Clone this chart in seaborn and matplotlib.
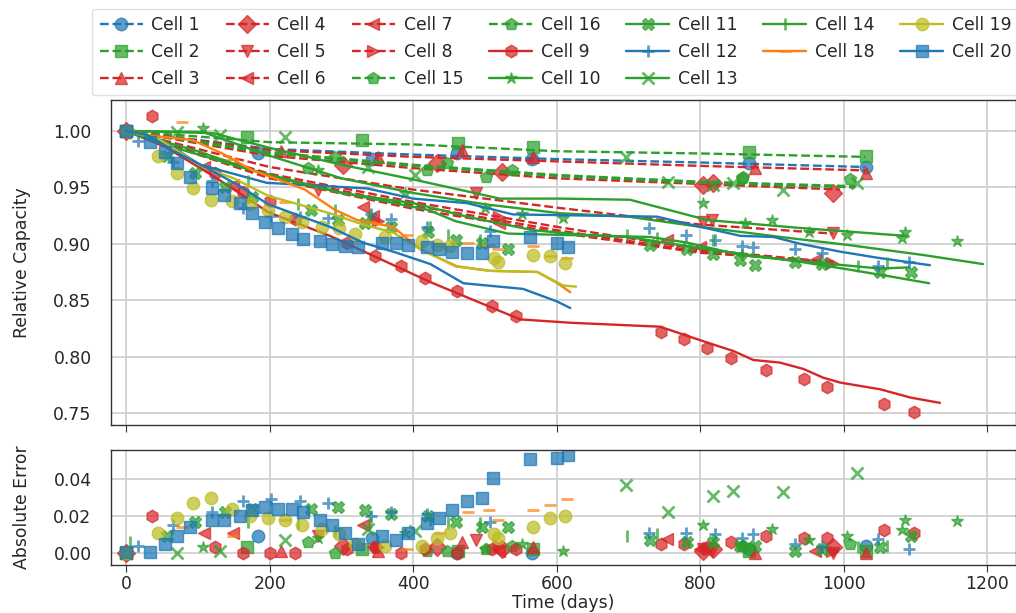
import matplotlib
matplotlib.use("Agg")
import matplotlib.pyplot as plt
from matplotlib.lines import Line2D
from matplotlib.colors import to_rgba
import seaborn as sns

# ---- data (days, relative capacity, abs error) ----
cell1_line_t = [0, 200, 400, 600, 800, 1030]
cell1_line_q = [1.0, 0.984, 0.979, 0.975, 0.972, 0.968]
cell1_t = [0, 184, 343, 461, 566, 868, 1031]
cell1_q = [1.0, 0.9805, 0.975, 0.980, 0.975, 0.9715, 0.968]
cell1_err = [0.0, 0.009, 0.008, 0.0, 0.0, 0.002, 0.004]

cell2_line_t = [0, 200, 400, 600, 800, 1030]
cell2_line_q = [1.0, 0.990, 0.988, 0.982, 0.980, 0.977]
cell2_t = [0, 168, 329, 463, 567, 868, 1031]
cell2_q = [1.0, 0.995, 0.992, 0.989, 0.986, 0.981, 0.978]
cell2_err = [0.0, 0.003, 0.002, 0.001, 0.002, 0.001, 0.001]

cell3_line_t = [0, 200, 400, 600, 800, 1030]
cell3_line_q = [1.0, 0.983, 0.977, 0.973, 0.969, 0.965]
cell3_t = [0, 216, 351, 468, 567, 877, 1031]
cell3_q = [1.0, 0.982, 0.977, 0.983, 0.977, 0.967, 0.963]
cell3_err = [0.0, 0.001, 0.001, 0.006, 0.003, 0.0, 0.0]

cell4_line_t = [0, 200, 400, 600, 800, 995]
cell4_line_q = [1.0, 0.978, 0.967, 0.958, 0.953, 0.948]
cell4_t = [0, 302, 433, 524, 804, 818, 985]
cell4_q = [1.0, 0.970, 0.972, 0.964, 0.952, 0.954, 0.945]
cell4_err = [0.0, 0.004, 0.003, 0.002, 0.001, 0.002, 0.003]

cell5_line_t = [0, 200, 400, 600, 800, 985]
cell5_line_q = [1.0, 0.968, 0.948, 0.932, 0.917, 0.909]
cell5_t = [0, 268, 488, 804, 816, 985]
cell5_q = [1.0, 0.948, 0.945, 0.919, 0.921, 0.9097]
cell5_err = [0.0, 0.009, 0.007, 0.002, 0.001, 0.0]

cell6_line_t = [0, 200, 400, 600, 800, 960]
cell6_line_q = [1.0, 0.962, 0.937, 0.915, 0.895, 0.885]
cell6_t = [0, 149, 330, 753, 960]
cell6_q = [1.0, 0.952, 0.933, 0.9035, 0.886]
cell6_err = [0.0, 0.011, 0.015, 0.0075, 0.001]

cell7_line_t = [0, 200, 400, 600, 800, 980]
cell7_line_q = [1.0, 0.960, 0.934, 0.912, 0.893, 0.883]
cell7_t = [0, 108, 344, 520, 800]
cell7_q = [1.0, 0.968, 0.925, 0.918, 0.897]
cell7_err = [0.0, 0.011, 0.003, 0.001, 0.002]

cell8_line_t = [0, 200, 400, 600, 800, 988]
cell8_line_q = [1.0, 0.958, 0.931, 0.910, 0.892, 0.884]
cell8_t = [0, 351, 519, 984]
cell8_q = [1.0, 0.920, 0.924, 0.883]
cell8_err = [0.0, 0.003, 0.004, 0.001]

cell15_line_t = [0, 200, 400, 600, 800, 1016]
cell15_line_q = [1.0, 0.980, 0.969, 0.960, 0.954, 0.950]
cell15_t = [0, 254, 419, 502, 858, 1009]
cell15_q = [1.0, 0.967, 0.9655, 0.959, 0.958, 0.957]
cell15_err = [0.0, 0.006, 0.001, 0.002, 0.004, 0.005]

cell16_line_t = [0, 200, 400, 600, 800, 1016]
cell16_line_q = [1.0, 0.981, 0.970, 0.961, 0.955, 0.951]
cell16_t = [0, 291, 447, 538, 860]
cell16_q = [1.0, 0.977, 0.9717, 0.9655, 0.959]
cell16_err = [0.0, 0.0, 0.001, 0.004, 0.004]

cell9_line_t = [0, 54, 124, 198, 284, 424, 549, 619, 744, 810, 846, 874, 911,
                944, 971, 995, 1051, 1093, 1134]
cell9_line_q = [1.0, 0.986, 0.959, 0.928, 0.907, 0.866, 0.833, 0.830, 0.8265,
                0.8124, 0.805, 0.797, 0.7947, 0.789, 0.7814, 0.777, 0.771,
                0.7637, 0.759]
cell9_t = [0, 36, 124, 163, 201, 236, 308, 347, 383, 417, 461, 510, 543, 746,
           778, 810, 843, 892, 945, 977, 1056, 1098]
cell9_q = [1.0, 1.013, 0.963, 0.946, 0.938, 0.922, 0.901, 0.889, 0.880, 0.870,
           0.858, 0.845, 0.836, 0.822, 0.816, 0.808, 0.799, 0.788, 0.7805,
           0.7735, 0.7584, 0.751]
cell9_err = [0.0, 0.020, 0.003, 0.0, 0.0, 0.0, 0.002, 0.003, 0.0, 0.002, 0.0,
             0.002, 0.002, 0.005, 0.005, 0.003, 0.006, 0.009, 0.008, 0.008,
             0.0125, 0.011]

cell10_line_t = [0, 107, 200, 300, 400, 500, 605, 700, 800, 925, 1005, 1111, 1194]
cell10_line_q = [1.0, 0.999, 0.978, 0.958, 0.945, 0.935, 0.927, 0.924, 0.915,
                 0.905, 0.899, 0.890, 0.882]
cell10_t = [0, 107, 268, 389, 500, 552, 609, 804, 862, 900, 951, 1005, 1081,
            1086, 1158]
cell10_q = [1.0, 1.003, 0.9655, 0.945, 0.932, 0.926, 0.923, 0.936, 0.9186,
            0.921, 0.910, 0.908, 0.905, 0.910, 0.9027]
cell10_err = [0.0, 0.003, 0.008, 0.011, 0.002, 0.005, 0.001, 0.015, 0.004,
              0.013, 0.007, 0.009, 0.0125, 0.018, 0.0175]

cell11_line_t = [0, 57, 96, 138, 176, 295, 421, 459, 532, 730, 782, 856, 932,
                 1051, 1088]
cell11_line_q = [1.0, 0.987, 0.980, 0.972, 0.965, 0.946, 0.930, 0.920, 0.909,
                 0.906, 0.901, 0.890, 0.885, 0.878, 0.879]
cell11_t = [0, 57, 96, 138, 176, 258, 295, 333, 369, 421, 459, 496, 532, 730,
            782, 818, 856, 877, 932, 970, 1051, 1094]
cell11_q = [1.0, 0.978, 0.963, 0.9505, 0.941, 0.930, 0.921, 0.918, 0.915,
            0.910, 0.903, 0.901, 0.895, 0.899, 0.895, 0.891, 0.886, 0.881,
            0.884, 0.882, 0.875, 0.875]
cell11_err = [0.0, 0.009, 0.017, 0.022, 0.024, 0.024, 0.025, 0.023, 0.021,
              0.020, 0.017, 0.014, 0.014, 0.007, 0.006, 0.006, 0.004, 0.004,
              0.001, 0.002, 0.003, 0.009]

cell12_line_t = [0, 50, 103, 196, 336, 400, 475, 539, 740, 800, 856, 902, 939,
                 995, 1047, 1120]
cell12_line_q = [1.0, 0.992, 0.970, 0.954, 0.949, 0.940, 0.936, 0.926, 0.924,
                 0.915, 0.907, 0.906, 0.900, 0.893, 0.8876, 0.881]
cell12_t = [0, 17, 66, 120, 163, 202, 242, 282, 341, 369, 419, 507, 728, 780,
            821, 858, 874, 932, 970, 1048, 1091]
cell12_q = [1.0, 0.991, 0.9726, 0.9557, 0.932, 0.925, 0.924, 0.923, 0.9265,
            0.922, 0.915, 0.9115, 0.914, 0.908, 0.9035, 0.898, 0.897, 0.895,
            0.892, 0.880, 0.884]
cell12_err = [0.0, 0.004, 0.015, 0.022, 0.028, 0.029, 0.028, 0.027, 0.020,
              0.022, 0.021, 0.017, 0.011, 0.011, 0.010, 0.008, 0.010, 0.005,
              0.003, 0.0075, 0.002]

cell13_line_t = [0, 121, 200, 300, 400, 521, 605, 702, 810, 939, 1086]
cell13_line_q = [1.0, 0.998, 0.985, 0.970, 0.957, 0.940, 0.940, 0.939, 0.921,
                 0.914, 0.907]
cell13_t = [0, 71, 131, 221, 337, 403, 697, 755, 818, 845, 915, 1019]
cell13_q = [1.0, 0.999, 0.996, 0.995, 0.968, 0.961, 0.977, 0.955, 0.952,
            0.954, 0.948, 0.954]
cell13_err = [0.0, 0.0, 0.001, 0.007, 0.013, 0.012, 0.037, 0.022, 0.031,
              0.0335, 0.033, 0.043]

cell14_line_t = [0, 100, 200, 300, 400, 475, 567, 637, 700, 790, 870, 939, 999,
                 1065, 1119]
cell14_line_q = [1.0, 0.982, 0.960, 0.945, 0.936, 0.924, 0.912, 0.908, 0.906,
                 0.897, 0.890, 0.884, 0.878, 0.871, 0.865]
cell14_t = [0, 5, 170, 240, 291, 340, 423, 449, 493, 698, 740, 818, 858, 1020,
            1060]
cell14_q = [1.0, 0.998, 0.956, 0.935, 0.930, 0.925, 0.915, 0.908, 0.9035,
            0.908, 0.905, 0.9035, 0.890, 0.8805, 0.883]
cell14_err = [0.0, 0.006, 0.017, 0.016, 0.012, 0.016, 0.018, 0.016, 0.016,
              0.009, 0.010, 0.007, 0.004, 0.003, 0.004]

cell18_line_t = [0, 31, 92, 134, 176, 212, 249, 291, 322, 372, 410, 461, 507,
                 573, 600, 619]
cell18_line_q = [1.0, 0.996, 0.992, 0.980, 0.965, 0.957, 0.948, 0.930, 0.921,
                 0.915, 0.895, 0.880, 0.876, 0.875, 0.8655, 0.857]
cell18_t = [0, 78, 149, 221, 392, 437, 477, 505, 518, 567, 590, 614]
cell18_q = [1.0, 1.008, 0.975, 0.937, 0.908, 0.898, 0.901, 0.899, 0.895,
            0.898, 0.889, 0.887]
cell18_err = [0.0, 0.014, 0.009, 0.018, 0.002, 0.011, 0.022, 0.023, 0.018,
              0.023, 0.026, 0.029]

cell19_line_t = [0, 45, 110, 150, 198, 284, 330, 372, 405, 459, 507, 573, 609, 627]
cell19_line_q = [1.0, 0.993, 0.967, 0.958, 0.9425, 0.927, 0.917, 0.910, 0.897,
                 0.880, 0.876, 0.875, 0.863, 0.862]
cell19_t = [0, 45, 71, 93, 118, 148, 173, 198, 221, 245, 273, 296, 319, 361,
            412, 433, 451, 512, 518, 567, 591, 612]
cell19_q = [1.0, 0.978, 0.963, 0.949, 0.939, 0.938, 0.935, 0.930, 0.924,
            0.919, 0.915, 0.914, 0.909, 0.906, 0.902, 0.899, 0.898, 0.887,
            0.884, 0.890, 0.889, 0.883]
cell19_err = [0.0, 0.011, 0.019, 0.027, 0.030, 0.024, 0.020, 0.019, 0.018,
              0.015, 0.013, 0.010, 0.005, 0.004, 0.004, 0.008, 0.011, 0.010,
              0.008, 0.014, 0.019, 0.020]

cell20_line_t = [0, 31, 64, 110, 156, 198, 284, 330, 377, 424, 470, 553, 600, 619]
cell20_line_q = [1.0, 0.996, 0.983, 0.968, 0.952, 0.935, 0.915, 0.901, 0.892,
                 0.882, 0.865, 0.860, 0.849, 0.843]
cell20_t = [0, 33, 54, 71, 89, 119, 137, 159, 175, 194, 212, 231, 247, 270,
            287, 305, 323, 357, 376, 393, 419, 436, 454, 475, 496, 511, 563,
            601, 616]
cell20_q = [1.0, 0.990, 0.981, 0.972, 0.959, 0.949, 0.943, 0.936, 0.927, 0.919,
            0.914, 0.909, 0.904, 0.902, 0.900, 0.898, 0.897, 0.901, 0.901,
            0.899, 0.897, 0.895, 0.893, 0.892, 0.892, 0.9027, 0.906, 0.901,
            0.897]
cell20_err = [0.0005, 0.0005, 0.005, 0.009, 0.014, 0.018, 0.018, 0.020, 0.023,
              0.025, 0.024, 0.024, 0.022, 0.018, 0.015, 0.011, 0.005, 0.009,
              0.007, 0.011, 0.016, 0.019, 0.023, 0.028, 0.030, 0.0405, 0.051,
              0.0515, 0.053]

# legend order: label, color, linestyle, marker, data
cells = [
    ("Cell 1", "tab:blue", "--", "o", cell1_line_t, cell1_line_q, cell1_t, cell1_q, cell1_err),
    ("Cell 2", "tab:green", "--", "s", cell2_line_t, cell2_line_q, cell2_t, cell2_q, cell2_err),
    ("Cell 3", "tab:red", "--", "^", cell3_line_t, cell3_line_q, cell3_t, cell3_q, cell3_err),
    ("Cell 4", "tab:red", "--", "D", cell4_line_t, cell4_line_q, cell4_t, cell4_q, cell4_err),
    ("Cell 5", "tab:red", "--", "v", cell5_line_t, cell5_line_q, cell5_t, cell5_q, cell5_err),
    ("Cell 6", "tab:red", "--", "<", cell6_line_t, cell6_line_q, cell6_t, cell6_q, cell6_err),
    ("Cell 7", "tab:red", "--", "<", cell7_line_t, cell7_line_q, cell7_t, cell7_q, cell7_err),
    ("Cell 8", "tab:red", "--", ">", cell8_line_t, cell8_line_q, cell8_t, cell8_q, cell8_err),
    ("Cell 15", "tab:green", "--", "p", cell15_line_t, cell15_line_q, cell15_t, cell15_q, cell15_err),
    ("Cell 16", "tab:green", "--", "p", cell16_line_t, cell16_line_q, cell16_t, cell16_q, cell16_err),
    ("Cell 9", "tab:red", "-", "h", cell9_line_t, cell9_line_q, cell9_t, cell9_q, cell9_err),
    ("Cell 10", "tab:green", "-", "*", cell10_line_t, cell10_line_q, cell10_t, cell10_q, cell10_err),
    ("Cell 11", "tab:green", "-", "X", cell11_line_t, cell11_line_q, cell11_t, cell11_q, cell11_err),
    ("Cell 12", "tab:blue", "-", "+", cell12_line_t, cell12_line_q, cell12_t, cell12_q, cell12_err),
    ("Cell 13", "tab:green", "-", "x", cell13_line_t, cell13_line_q, cell13_t, cell13_q, cell13_err),
    ("Cell 14", "tab:green", "-", "|", cell14_line_t, cell14_line_q, cell14_t, cell14_q, cell14_err),
    ("Cell 18", "tab:orange", "-", "_", cell18_line_t, cell18_line_q, cell18_t, cell18_q, cell18_err),
    ("Cell 19", "tab:olive", "-", "o", cell19_line_t, cell19_line_q, cell19_t, cell19_q, cell19_err),
    ("Cell 20", "tab:blue", "-", "s", cell20_line_t, cell20_line_q, cell20_t, cell20_q, cell20_err),
]

sns.set_style("whitegrid", {"axes.edgecolor": "0.2", "grid.color": "0.82",
                            "xtick.bottom": True})
plt.rcParams["font.family"] = ["DejaVu Sans"]
plt.rcParams["font.size"] = 12.4

fig = plt.figure(figsize=(10.16, 6.13), dpi=100)
ax = fig.add_axes([0.1093, 0.3067, 0.8907, 0.5302])
ax_err = fig.add_axes([0.1093, 0.0783, 0.8907, 0.1876], sharex=ax)

MS = 9
handles = []
for label, color, ls, mk, lt, lq, mt, mq, me in cells:
    mcol = to_rgba(color, 0.72)
    mew = 2 if mk in ("+", "x", "|", "_") else 1
    sns.lineplot(x=lt, y=lq, ax=ax, color=color, linestyle=ls, linewidth=1.7,
                 sort=False, estimator=None)
    ax.plot(mt, mq, linestyle="none", marker=mk, markersize=MS,
            markerfacecolor=mcol, markeredgecolor=mcol, markeredgewidth=mew)
    ax_err.plot(mt, me, linestyle="none", marker=mk, markersize=MS,
                markerfacecolor=mcol, markeredgecolor=mcol, markeredgewidth=mew)
    handles.append(Line2D([], [], color=color, linestyle=ls, linewidth=1.7,
                          marker=mk, markersize=MS, markerfacecolor=mcol,
                          markeredgecolor=mcol, markeredgewidth=mew, label=label))

ax.set_xlim(-21, 1240)
ax.set_ylim(0.7394, 1.0274)
ax.set_yticks([0.75, 0.80, 0.85, 0.90, 0.95, 1.00])
ax.set_ylabel("Relative Capacity", labelpad=16)
ax.tick_params(axis="x", labelbottom=False, length=5, color="0.2")
ax.tick_params(axis="y", length=0, pad=14)

ax_err.set_ylim(-0.0065, 0.0557)
ax_err.set_yticks([0.00, 0.02, 0.04])
ax_err.set_xticks([0, 200, 400, 600, 800, 1000, 1200])
ax_err.set_ylabel("Absolute Error", labelpad=16)
ax_err.set_xlabel("Time (days)", labelpad=1)
ax_err.tick_params(axis="x", length=5, pad=2, color="0.2")
ax_err.tick_params(axis="y", length=0, pad=14)

for a in (ax, ax_err):
    a.grid(True, linewidth=1.3)
    for s in a.spines.values():
        s.set_linewidth(1.0)

fig.legend(handles=handles, ncol=7, loc="upper left",
           bbox_to_anchor=(0.082, 1.0), frameon=True, fontsize=12.4,
           handlelength=2.5, handletextpad=0.5, columnspacing=1.5,
           labelspacing=0.5, borderpad=0.45, edgecolor="0.85")

fig.savefig("out.png", dpi=100)
